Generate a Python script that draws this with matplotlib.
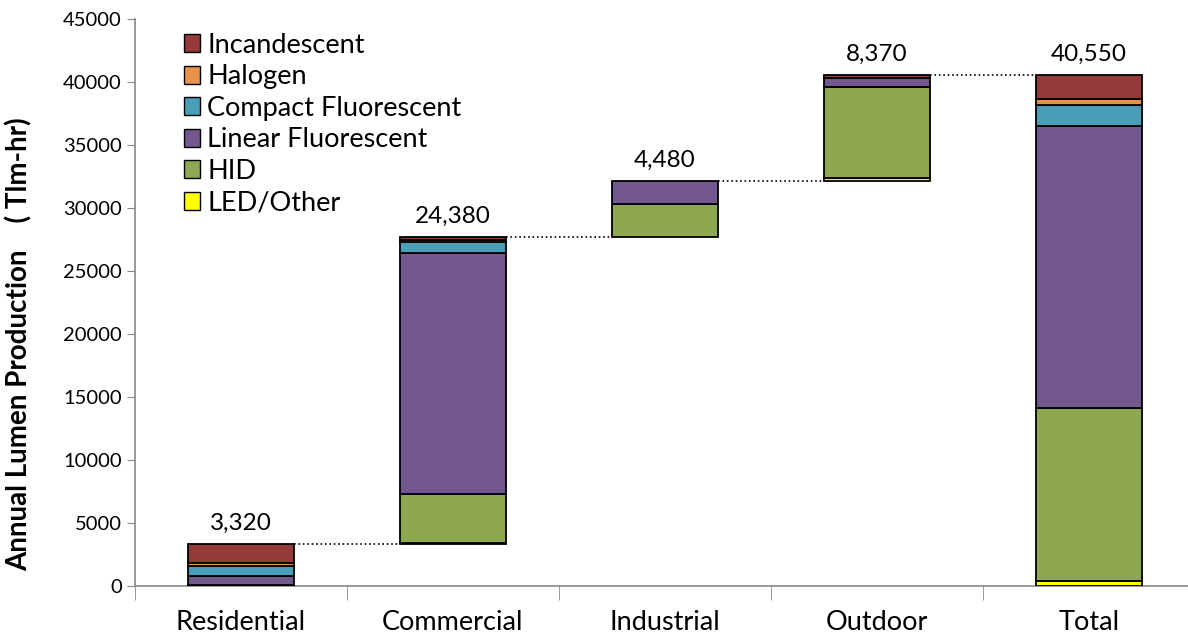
import matplotlib.pyplot as plt
import numpy as np

plt.rcParams['font.family'] = ['Lato', 'DejaVu Sans']

sectors = ['Residential', 'Commercial', 'Industrial', 'Outdoor']
types = ['Incandescent', 'Halogen', 'Compact Fluorescent', 'Linear Fluorescent', 'HID', 'LED/Other']
colors = ['#953a38', '#e8924a', '#4a9fb8', '#72588f', '#8da850', '#ffff00']

# TLm-hr per lamp type per sector
incandescent = [1500, 200, 0, 200]
halogen = [250, 230, 0, 0]
cfl = [800, 870, 0, 0]
linear = [650, 19130, 1880, 740]
hid = [0, 3850, 2600, 7250]
led = [120, 100, 0, 180]

data = np.array([incandescent, halogen, cfl, linear, hid, led], dtype=float)
sector_tot = data.sum(axis=0)
total_by_type = data.sum(axis=1)
grand = sector_tot.sum()

labels = sectors + ['Total']
starts = np.concatenate([[0], np.cumsum(sector_tot)[:-1], [0]])
tops = np.concatenate([np.cumsum(sector_tot), [grand]])
values = np.concatenate([sector_tot, [grand]])

fig = plt.figure(figsize=(11.88, 6.37), dpi=100)
ax = fig.add_axes([0.1136, 0.080, 0.8864, 0.890])

x = np.arange(len(labels))
w = 0.5
cols = np.column_stack([data, total_by_type])

for i in range(len(labels)):
    bottom = starts[i]
    # bottom to top: LED, HID, Linear, CFL, Halogen, Incandescent
    for k in range(len(types) - 1, -1, -1):
        v = cols[k, i]
        if v <= 0:
            continue
        ax.bar(x[i], v, w, bottom=bottom, color=colors[k], edgecolor='black', linewidth=1.3, zorder=3)
        bottom += v
    ax.text(x[i], tops[i] + 800, f'{int(round(values[i])):,}', ha='center', va='bottom', fontsize=17.5)

# dotted connectors
for i in range(len(labels) - 1):
    ax.plot([x[i] + w / 2, x[i + 1] - w / 2], [tops[i], tops[i]], ls=':', color='black', lw=1.2, zorder=2)

handles = [plt.Rectangle((0, 0), 1, 1, facecolor=c, edgecolor='black', linewidth=1.0) for c in colors]
ax.legend(handles, types, loc='upper left', bbox_to_anchor=(0.036, 0.995), frameon=False, fontsize=19.5,
          handlelength=0.62, handleheight=0.62, handletextpad=0.25, labelspacing=0.24, borderaxespad=0)

ax.set_xlim(-0.5, 4.467)
ax.set_ylim(0, 45000)
ax.set_yticks(np.arange(0, 45001, 5000))
ax.set_xticks(x)
ax.set_xticklabels(labels, fontsize=19.5)
ax.set_xticks(np.arange(-0.5, 4.5, 1.0), minor=True)
ax.tick_params(axis='x', which='major', length=0, pad=17)
ax.tick_params(axis='x', which='minor', length=10, color='#888888', direction='out')
ax.tick_params(axis='y', labelsize=14.5, length=6, color='#888888')
for s in ['top', 'right']:
    ax.spines[s].set_visible(False)
for s in ['left', 'bottom']:
    ax.spines[s].set_color('#888888')
    ax.spines[s].set_linewidth(1.2)

ax.set_ylabel('Annual Lumen Production    ( Tlm-hr)', fontsize=20, fontweight='bold')
ax.yaxis.set_label_coords(-0.097, 0.426)

fig.savefig('out.png', dpi=100)
